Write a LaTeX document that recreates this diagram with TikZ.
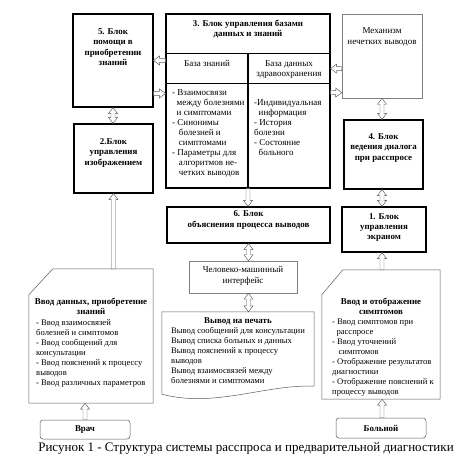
\documentclass[tikz,border=0pt]{standalone}
\usepackage{fontspec}
\setmainfont{Liberation Serif}
\usetikzlibrary{arrows.meta,positioning,calc}

\begin{document}
\begin{tikzpicture}[x=1pt,y=-1pt,
	blok/.style={draw,line width=1.1pt,inner sep=0pt},
	grblok/.style={draw=gray,line width=0.5pt,inner sep=0pt},
	btxt/.style={font=\bfseries\fontsize{8.9}{10.3}\selectfont,align=center,inner sep=0pt},
	ntxt/.style={font=\fontsize{9}{10.5}\selectfont,align=center,inner sep=0pt},
	ltxt/.style={font=\fontsize{8.6}{10}\selectfont,align=left,inner sep=0pt,anchor=north west},
	card/.style={draw=gray!70!black,line width=0.5pt},
	hol/.style={draw=gray!70!black,fill=white,line width=0.45pt,to path={let \p1=(\tikztostart),\p2=(\tikztotarget),
		\n1={atan2(\y2-\y1,\x2-\x1)},\n2={veclen(\x2-\x1,\y2-\y1)-6pt} in
		($(\p1)+(\n1+90:2pt)$) -- ($(\p1)+(\n1:\n2)+(\n1+90:2pt)$) -- ($(\p1)+(\n1:\n2)+(\n1+90:4.5pt)$) -- (\p2)
		-- ($(\p1)+(\n1:\n2)+(\n1-90:4.5pt)$) -- ($(\p1)+(\n1:\n2)+(\n1-90:2pt)$) -- ($(\p1)+(\n1-90:2pt)$) -- cycle}},
	holb/.style={draw=gray!70!black,fill=white,line width=0.45pt,to path={let \p1=(\tikztostart),\p2=(\tikztotarget),
		\n1={atan2(\y2-\y1,\x2-\x1)},\n2={veclen(\x2-\x1,\y2-\y1)-6pt} in
		(\p1) -- ($(\p1)+(\n1:6pt)+(\n1+90:4.5pt)$) -- ($(\p1)+(\n1:6pt)+(\n1+90:2pt)$) -- ($(\p1)+(\n1:\n2)+(\n1+90:2pt)$)
		-- ($(\p1)+(\n1:\n2)+(\n1+90:4.5pt)$) -- (\p2) -- ($(\p1)+(\n1:\n2)+(\n1-90:4.5pt)$) -- ($(\p1)+(\n1:\n2)+(\n1-90:2pt)$)
		-- ($(\p1)+(\n1:6pt)+(\n1-90:2pt)$) -- ($(\p1)+(\n1:6pt)+(\n1-90:4.5pt)$) -- cycle}}]
	\useasboundingbox (0,0) rectangle (474,464);
	% blocks of the system
	\node[blok,minimum width=80,minimum height=93] (b5) at (113,60.5) {};
	\node[btxt,below=15pt of b5.north] {5. Блок\\помощи в\\приобретении\\знаний};
	\node[blok,minimum width=79,minimum height=69] (b2) at (113.5,158.5) {};
	\node[btxt,below=15pt of b2.north] {2.Блок\\управления\\изображением};
	\node[blok,minimum width=164,minimum height=174] (b3) at (248,101) {};
	\node[btxt,below=6pt of b3.north] {3. Блок управления базами\\данных и знаний};
	\draw[line width=1.1pt] ([yshift=-40pt]b3.north west) -- ([yshift=-40pt]b3.north east);
	\draw[line width=1.1pt] ([yshift=-70pt]b3.north west) -- ([yshift=-70pt]b3.north east);
	\draw[line width=1.1pt] ([yshift=-40pt]b3.north) -- (b3.south);
	\node[ntxt] (bz) at (207,63) {База знаний};
	\node[ntxt] (bd) at (289,69.5) {База данных\\здравоохранения};
	\node[ltxt,font=\fontsize{9}{10}\selectfont] (bzl) at (172,89.5) {- Взаимосвязи\\\ \ между болезнями\\\ \ и симптомами\\- Синонимы\\\ \ \ болезней и\\\ \ \ симптомами\\- Параметры для\\\ \ \ алгоритмов не-\\\ \ \ четких выводов};
	\node[ltxt,font=\fontsize{9}{10}\selectfont] (bdl) at (254,99.5) {-Индивидуальная\\\ \ информация\\- История\\болезни\\- Состояние\\\ \ больного};
	\node[grblok,minimum width=80,minimum height=84] (meh) at (382,56) {};
	\node[ntxt,below=14pt of meh.north] {Механизм\\нечетких выводов};
	\node[blok,minimum width=79,minimum height=69] (b4) at (383.5,154.5) {};
	\node[btxt,below=14pt of b4.north] {4. Блок\\ведения диалога\\при расспросе};
	\node[blok,minimum width=84,minimum height=45] (b1) at (384,229.5) {};
	\node[btxt] at (384,227.5) {1. Блок\\управления\\экраном};
	\node[blok,minimum width=163,minimum height=36] (b6) at (248.5,225) {};
	\node[btxt] at (248.5,220) {6. Блок\\ объяснения процесса выводов};
	\node[grblok,minimum width=108,minimum height=32] (chm) at (243,277) {};
	\node[ntxt] at (243,276) {Человеко-машинный\\интерфейс};
	% input and output
	\node[minimum width=152,minimum height=80,inner sep=0pt] (doc) at (238,352) {};
	\draw[card] (doc.north west) -- (doc.north east) -- ($(doc.south east)+(0,-6)$)
		.. controls +(-49,-2) and +(53,14) .. ($(doc.south west)+(0,2)$) -- cycle;
	\node[btxt,below=6pt of doc.north] {Вывод на печать};
	\node[ltxt] at (171,327) {Вывод сообщений для консультации\\Вывод списка больных и данных\\Вывод пояснений к процессу\\выводов\\Вывод взаимосвязей между\\болезнями и симптомами};
	\node[minimum width=124,minimum height=134,inner sep=0pt] (inl) at (91,336) {};
	\draw[card] ($(inl.north west)+(24,0)$) -- (inl.north east) -- (inl.south east) -- (inl.south west) -- ($(inl.north west)+(0,26)$) -- cycle;
	\node[btxt,below=29pt of inl.north] {Ввод данных, приобретение\\знаний};
	\node[ltxt] at (36,319) {- Ввод взаимосвязей\\болезней и симптомов\\- Ввод сообщений для\\консультации\\- Ввод пояснений к процессу\\выводов\\- Ввод различных параметров};
	\node[minimum width=118,minimum height=129,inner sep=0pt] (inr) at (381,334.5) {};
	\draw[card] ($(inr.north west)+(21,0)$) -- (inr.north east) -- (inr.south east) -- (inr.south west) -- ($(inr.north west)+(0,25)$) -- cycle;
	\node[btxt,below=28pt of inr.north] {Ввод и отображение\\симптомов};
	\node[ltxt] at (332,319) {- Ввод симптомов при\\\ \ расспросе\\- Ввод уточнений\\\ \ \ симптомов\\- Отображение результатов\\диагностики\\- Отображение пояснений к\\процессу выводов};
	\node[card,rounded corners=3pt,minimum width=90,minimum height=19,btxt] (vr) at (85,429.5) {Врач};
	\node[card,rounded corners=3pt,minimum width=90,minimum height=20,btxt] (bo) at (381,428) {Больной};
	% arrows
	\draw[holb] (b5.south) to (b5.south |- b2.north);
	\draw[hol] (b2.south |- inl.north) to (b2.south);
	\draw[hol] (vr.north) to (vr.north |- inl.south);
	\draw[hol] ([yshift=-47pt]b3.north west) to ([yshift=-47pt]b5.north east);
	\draw[hol] ([yshift=-80pt]b5.north east) to ([yshift=-80pt]b3.north west);
	\draw[hol] ([yshift=-55pt]meh.north west) to ([yshift=-55pt]b3.north east);
	\draw[hol] ([yshift=-79pt]b3.north east) to ([yshift=-79pt]meh.north west);
	\draw[hol] (b3.south) to (b3.south |- b6.north);
	\draw[holb] (b6.south) to (b6.south |- chm.north);
	\draw[holb] (b6.south |- chm.south) to (b6.south |- doc.north);
	\draw[holb] (meh.south) to (meh.south |- b4.north);
	\draw[holb] (meh.south |- b4.south) to (meh.south |- b1.north);
	\draw[hol] (meh.south |- inr.north) to (meh.south |- b1.south);
	\draw[hol] (meh.south |- bo.north) to (meh.south |- inr.south);
	\node[font=\fontsize{13}{15}\selectfont] (cap) at (246,448) {Рисунок 1 - Структура системы расспроса и предварительной диагностики};
\end{tikzpicture}
\end{document}
